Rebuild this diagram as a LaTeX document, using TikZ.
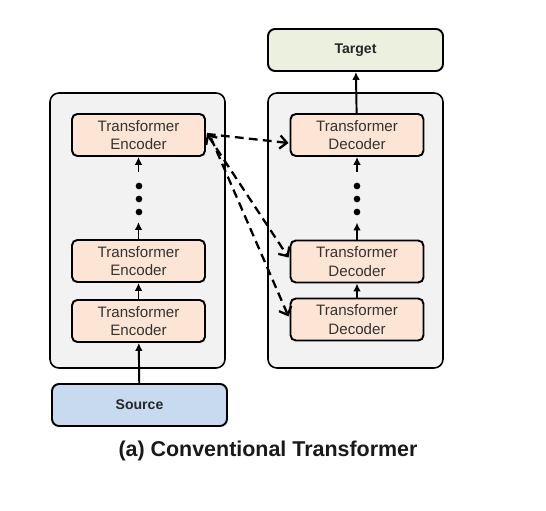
\documentclass[tikz,border=0pt]{standalone}
\usepackage{fontspec}
\setmainfont{Liberation Sans}
\usetikzlibrary{calc,positioning,arrows.meta}

\definecolor{panelgray}{HTML}{F2F2F2}
\definecolor{peach}{HTML}{FCE5D4}
\definecolor{targetgreen}{HTML}{EBF0DF}
\definecolor{sourceblue}{HTML}{C8DAF0}

\tikzset{
  panel/.style={draw, line width=0.9pt, fill=panelgray, rounded corners=5pt,
    minimum width=3.5cm, minimum height=5.5cm, inner sep=0pt},
  layerbox/.style={draw, line width=1.1pt, fill=peach, rounded corners=3pt,
    minimum width=2.66cm, minimum height=0.84cm, inner sep=0pt, align=center,
    font=\fontsize{8.6}{10.4}\selectfont, text=black!80},
  iobox/.style={draw, line width=1.1pt, rounded corners=4pt,
    minimum width=3.5cm, minimum height=0.84cm, inner sep=0pt,
    font=\fontsize{8}{9}\selectfont\bfseries, text=black!85},
  uparrow/.style={line width=1.1pt, -{Latex[length=4.5pt,width=4.4pt]}},
  crossarrow/.style={line width=1.3pt, dash pattern=on 5pt off 3pt, -{Straight Barb[length=4pt,width=7.5pt]}},
  dotmark/.style={circle, fill=black, inner sep=0pt, minimum size=3.8pt}
}

\begin{document}
\begin{tikzpicture}[x=0.02cm, y=-0.02cm]
  \useasboundingbox (0,0) rectangle (546,510);

  % two panels
  \node[panel] (encpanel) at (137.5, 230.5) {};
  \node[panel] (decpanel) at (355.5, 230.5) {};

  % input / output
  \node[iobox, fill=targetgreen] (target) at (355.5, 50) {Target};
  \node[iobox, fill=sourceblue] (source) at (139.5, 405) {Source};

  % encoder stack
  \node[layerbox] (encA) at (138.5, 321) {Transformer\\Encoder};
  \node[layerbox] (encB) at (138.5, 261) {Transformer\\Encoder};
  \node[layerbox] (encN) at (138.5, 135) {Transformer\\Encoder};

  % decoder stack
  \node[layerbox] (decA) at (357, 319.5) {Transformer\\Decoder};
  \node[layerbox] (decB) at (357, 261.5) {Transformer\\Decoder};
  \node[layerbox] (decN) at (357, 135) {Transformer\\Decoder};

  % dots between layers
  \node[dotmark] (encdot1) at (139, 186) {};
  \node[dotmark] (encdot2) at (139, 199) {};
  \node[dotmark] (encdot3) at (139, 212) {};
  \node[dotmark] (decdot1) at (357, 186) {};
  \node[dotmark] (decdot2) at (357, 199) {};
  \node[dotmark] (decdot3) at (357, 212) {};

  % caption
  \node[font=\fontsize{12.2}{14}\selectfont\bfseries, text=black!90] (caption) at (268, 451) {(a) Conventional Transformer};

  % solid arrows
  \draw[uparrow] (source) -- (encA);
  \draw[uparrow] (encA) -- (encB);
  \draw[uparrow] (encB.north) -- ++(0,-17);
  \draw[uparrow] ($(encN.south)+(0,15)$) -- (encN.south);
  \draw[uparrow] (decA) -- (decB);
  \draw[uparrow] (decB.north) -- ++(0,-17);
  \draw[uparrow] ($(decN.south)+(0,15)$) -- (decN.south);
  \draw[uparrow] (decN) -- (target);

  % encoder to decoder
  \coordinate (encout) at ($(encN.east)+(1,-1)$);
  \draw[crossarrow] (encout) -- ($(decN.west)+(-1,8)$);
  \draw[crossarrow, {Straight Barb[length=4pt,width=7.5pt]}-{Straight Barb[length=4pt,width=7.5pt]}] (encout) -- ($(decB.west)+(-1,-4)$);
  \draw[crossarrow] ($(encout)+(4,4)$) -- ($(decA.west)+(-1,-3)$);
\end{tikzpicture}
\end{document}
